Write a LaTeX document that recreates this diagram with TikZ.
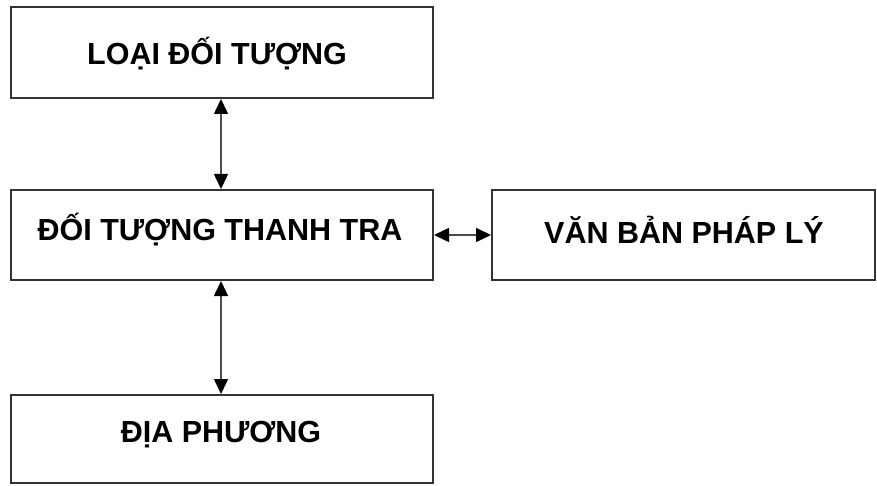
\documentclass[tikz,border=0pt]{standalone}
\usepackage{fontspec}
\setmainfont{Liberation Sans}
\usetikzlibrary{arrows.meta}
\begin{document}
\begin{tikzpicture}[x=1pt,y=-1pt,
  boxstyle/.style={draw=black!80, line width=1.8pt, fill=white},
  labelstyle/.style={font=\fontsize{30.5}{34}\selectfont\bfseries, text=black, inner sep=0pt},
  tipv/.tip={Triangle[length=15pt,width=14pt,fill=black,color=black]},
  conn/.style={draw=black!70, line width=1.5pt, tipv-tipv}]
\useasboundingbox (0,0) rectangle (877,486);
\path[boxstyle] (11,7) rectangle (433,98);
\path[boxstyle] (11,190) rectangle (433,280);
\path[boxstyle] (492,190) rectangle (875,280);
\path[boxstyle] (11,395) rectangle (433,483);
\node[labelstyle] (t1) at (217,54) {LOẠI ĐỐI TƯỢNG};
\node[labelstyle] (t2) at (220,230) {ĐỐI TƯỢNG THANH TRA};
\node[labelstyle] (t3) at (684,230) {VĂN BẢN PHÁP LÝ};
\node[labelstyle] (t4) at (221,435) {ĐỊA PHƯƠNG};
\coordinate (a1) at (221,99);
\coordinate (a2) at (221,189);
\coordinate (a3) at (221,281);
\coordinate (a4) at (221,394);
\coordinate (h1) at (434,235);
\coordinate (h2) at (491,235);
\draw[conn] (a1) -- (a2);
\draw[conn] (a3) -- (a4);
\draw[conn] (h1) -- (h2);
\end{tikzpicture}
\end{document}
